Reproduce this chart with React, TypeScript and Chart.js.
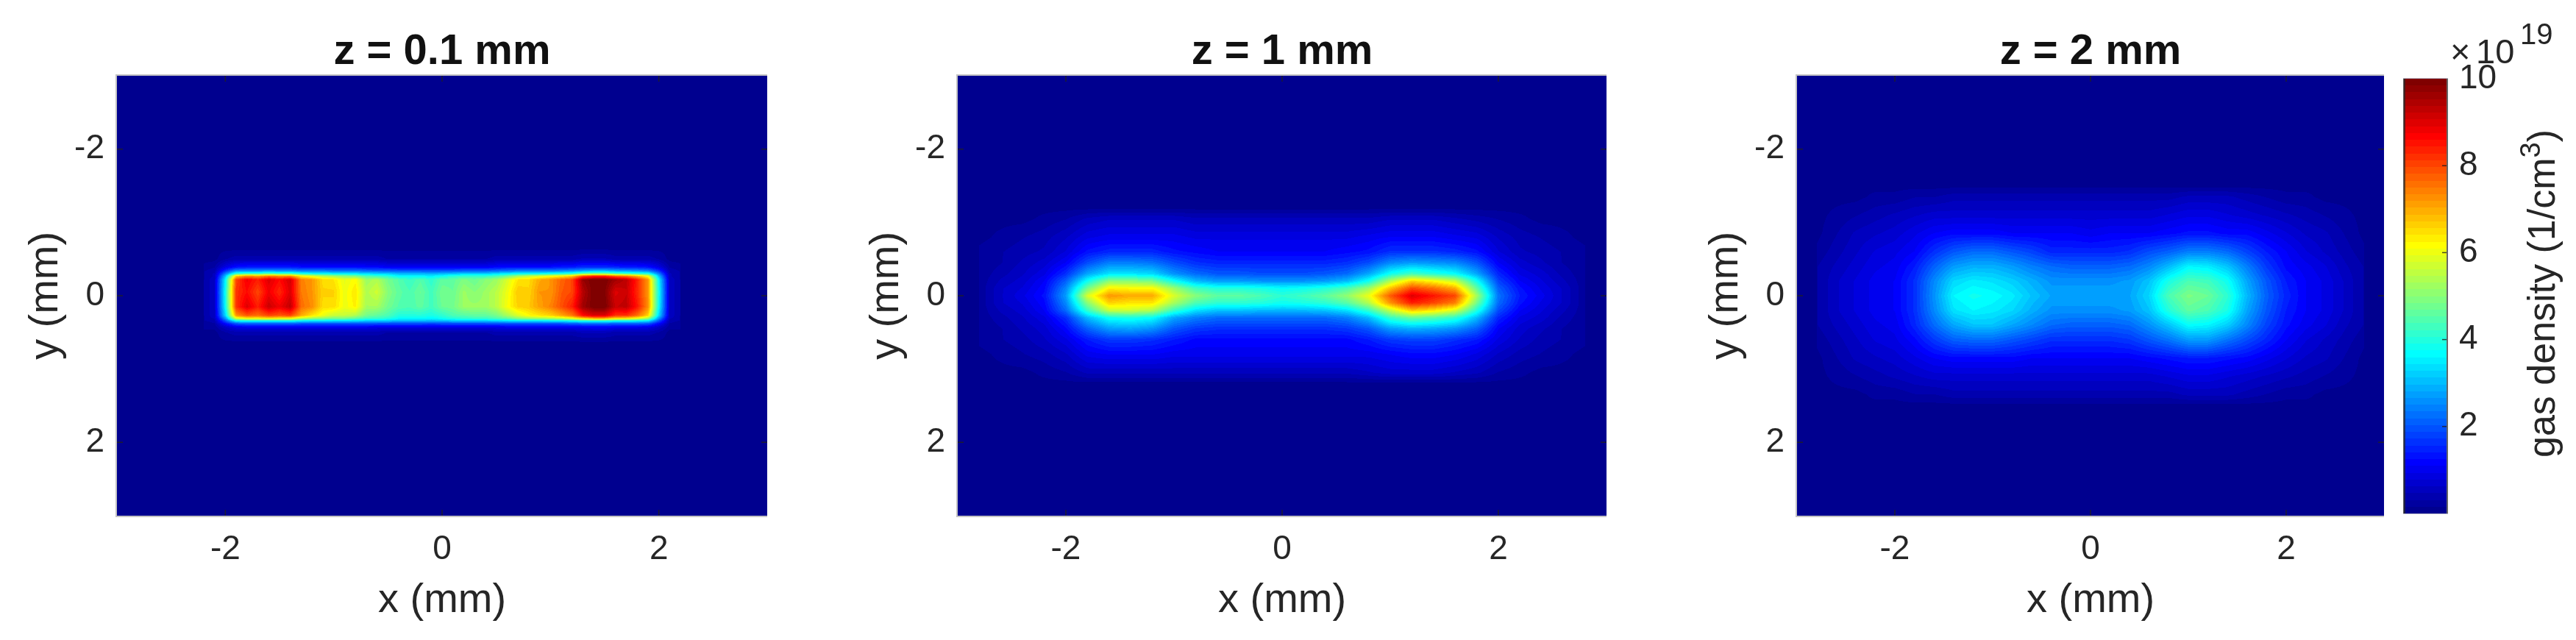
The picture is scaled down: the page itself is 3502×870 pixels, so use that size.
import React, { useEffect, useRef } from "react";
import { Chart, registerables } from "chart.js";

Chart.register(...registerables);

const panelTitles = ["z = 0.1 mm", "z = 1 mm", "z = 2 mm"];
const xTicks = [-2, 0, 2];
const yTicks = [-2, 0, 2];
const colorbarTicks = [2, 4, 6, 8, 10];

// Gas density, in units of 1e18 / cm^3.
const xColsFine = [-2.2, -2.1, -2.0, -1.9, -1.8, -1.7, -1.6, -1.5, -1.4, -1.3, -1.2, -1.1, -1.0, -0.9, -0.8, -0.7, -0.6, -0.5, -0.4, -0.3, -0.2, -0.1, 0, 0.1, 0.2, 0.3, 0.4, 0.5, 0.6, 0.7, 0.8, 0.9, 1.0, 1.1, 1.2, 1.3, 1.4, 1.5, 1.6, 1.7, 1.8, 1.9, 2.0, 2.1, 2.2];
const xColsCoarse = [-2.8, -2.6, -2.4, -2.2, -2.0, -1.8, -1.6, -1.4, -1.2, -1.0, -0.8, -0.6, -0.4, -0.2, 0, 0.2, 0.4, 0.6, 0.8, 1.0, 1.2, 1.4, 1.6, 1.8, 2.0, 2.2, 2.4, 2.6, 2.8];

const yRowsZ01 = [-0.65, -0.5, -0.39, -0.34, -0.3, -0.27, -0.22, -0.05, 0.15, 0.27, 0.31, 0.34, 0.38, 0.43, 0.5, 0.65];
const densityZ01 = [
  [1,1,1,1,1,1,1,1,1,1,1,1,1,1,1,1,1,1,1,1,1,1,1,1,1,1,1,1,1,1,1,1,1,1,1,1,1,1,1,1,1,1,1,1,1],
  [1,1,3,4,4,4,4,4,4,4,4,4,4,4,4,4,4,3,3,3,3,3,3,3,3,3,3,4,4,4,4,4,4,4,4,5,5,5,4,4,4,4,3,1,1],
  [2,3,9,13,14,14,14,14,14,13,13,13,13,13,13,12,12,11,11,11,11,11,11,11,11,11,11,12,13,13,13,13,13,14,14,16,16,16,15,14,14,13,9,3,2],
  [3,4,16,26,26,26,27,26,26,24,24,24,23,23,23,22,21,21,20,20,20,20,20,20,21,21,21,22,23,24,24,24,24,25,26,28,30,30,28,27,26,24,16,4,3],
  [3,5,24,42,44,44,46,44,44,40,38,38,36,36,35,33,33,32,30,30,30,29,30,31,32,32,32,34,36,37,38,38,39,40,42,48,50,50,46,44,42,40,24,5,3],
  [3,5,30,66,72,70,74,72,72,62,58,54,52,50,48,44,42,40,36,36,36,35,37,40,41,41,41,43,47,52,55,57,60,62,66,78,82,82,76,74,68,60,30,5,3],
  [3,6,36,80,88,84,90,86,91,74,72,65,64,59,62,52,54,48,45,42,45,41,46,46,49,47,50,52,58,64,65,70,72,77,80,97,100,100,96,93,84,72,36,6,3],
  [3,6,38,82,86,80,88,83,90,75,72,66,66,60,64,54,57,50,46,44,47,43,48,47,52,50,52,55,60,67,66,72,72,78,80,94,100,99,90,92,83,72,38,6,3],
  [3,6,37,82,90,84,92,88,93,76,73,65,65,60,63,53,53,48,45,44,46,43,47,48,52,52,52,55,61,66,67,71,74,79,84,96,100,100,92,93,85,73,37,6,3],
  [3,6,33,72,78,76,80,78,80,70,64,60,56,56,54,48,46,44,40,40,40,39,41,44,45,46,46,48,53,58,62,64,66,70,75,86,90,90,82,82,76,66,33,6,3],
  [3,5,26,58,62,62,64,62,62,55,52,50,48,48,46,42,42,40,37,37,37,36,38,40,41,42,42,44,46,50,52,53,54,56,60,66,70,70,65,64,60,52,26,5,3],
  [3,4,20,38,40,40,40,40,40,37,36,36,35,35,34,33,33,32,31,31,31,30,31,32,33,33,33,34,35,36,36,36,37,38,39,42,42,42,40,40,38,36,20,4,3],
  [2,3,12,20,21,21,21,21,21,20,20,20,20,20,20,20,19,19,19,19,19,18,19,19,19,19,19,19,20,20,20,20,20,20,21,22,22,22,21,21,21,20,12,3,2],
  [2,2,6,9,10,10,10,10,10,10,10,10,10,10,10,10,9,9,9,9,9,9,9,9,9,9,9,9,10,10,10,10,10,10,10,10,11,11,10,10,10,9,6,2,2],
  [1,1,3,4,4,4,4,4,4,4,4,4,4,4,4,4,4,3,3,3,3,3,3,3,3,3,3,4,4,4,4,4,4,4,4,5,5,5,4,4,4,4,3,1,1],
  [1,1,1,1,1,1,1,1,1,1,1,1,1,1,1,1,1,1,1,1,1,1,1,1,1,1,1,1,1,1,1,1,1,1,1,1,1,1,1,1,1,1,1,1,1],
];

const yRowsZ1 = [-1.2, -1.05, -0.8, -0.6, -0.45, -0.3, -0.2, -0.1, 0, 0.1, 0.2, 0.3, 0.45, 0.6, 0.8, 1.05, 1.2];
const densityZ1 = [
  [1,1,1,1,1,1,1,1,1,1,1,1,1,1,1,1,1,1,1,1,1,1,1,1,1,1,1,1,1],
  [1,1,1,2,3,5,6,6,6,6,5,5,5,5,5,5,5,5,5,6,6,6,5,4,3,2,1,1,1],
  [1,2,3,4,6,9,10,10,10,10,9,9,9,9,9,9,9,9,10,11,11,11,10,9,6,4,3,2,1],
  [2,3,4,5,8,13,15,15,15,13,12,11,11,11,11,11,11,12,13,16,16,16,15,13,8,5,4,3,2],
  [2,3,5,7,11,19,24,24,23,19,16,15,15,15,15,15,15,16,19,25,27,26,25,20,11,7,5,3,2],
  [2,4,6,9,16,28,34,34,33,26,22,20,20,19,19,19,20,22,28,38,43,40,37,28,15,9,7,4,2],
  [2,5,7,11,21,38,50,50,48,38,30,27,27,26,26,26,27,30,38,54,66,62,56,38,18,11,8,5,2],
  [2,6,8,12,25,48,63,62,62,52,43,40,40,39,37,38,40,44,52,68,80,76,70,46,21,13,9,6,2],
  [2,6,9,13,27,58,72,70,70,58,50,46,46,44,41,43,46,51,60,78,90,85,80,53,23,14,10,6,2],
  [2,6,8,12,25,50,66,64,64,53,44,41,41,40,38,39,41,45,54,72,84,80,74,48,22,13,9,6,2],
  [2,5,7,11,22,42,56,57,54,42,34,31,31,30,30,30,31,34,42,56,67,64,58,40,19,11,8,5,2],
  [2,4,6,9,16,30,38,39,37,28,24,22,22,22,22,22,22,24,30,42,47,45,41,30,15,9,7,4,2],
  [2,3,5,7,12,21,27,28,26,20,17,16,16,16,16,16,16,17,20,27,29,28,26,21,11,7,5,3,2],
  [2,3,4,6,9,14,17,17,16,14,12,12,12,12,12,12,12,12,14,17,18,18,16,14,9,6,4,3,2],
  [1,2,3,4,6,10,11,11,11,10,10,10,10,10,10,10,10,10,10,11,12,12,11,9,6,4,3,2,1],
  [1,1,1,2,3,5,5,5,5,5,5,5,5,5,5,5,5,5,6,7,7,7,6,5,3,2,1,1,1],
  [1,1,1,1,1,1,1,1,1,1,1,1,1,1,1,1,1,1,1,1,1,1,1,1,1,1,1,1,1],
];

const yRowsZ2 = [-1.5, -1.35, -1.1, -0.85, -0.6, -0.4, -0.2, 0, 0.2, 0.4, 0.6, 0.85, 1.1, 1.35, 1.5];
const densityZ2 = [
  [1,1,1,1,1,1,1,1,1,1,1,1,1,1,1,1,1,1,1,1,1,1,1,1,1,1,1,1,1],
  [1,1,1,2,2,3,3,4,4,4,4,4,4,4,4,4,4,4,4,5,5,5,4,3,2,2,1,1,1],
  [1,2,3,4,5,6,7,7,7,7,7,7,7,7,7,7,7,7,8,9,9,8,7,6,5,4,3,2,1],
  [1,3,5,6,7,9,11,12,12,12,11,11,11,11,10,11,11,11,12,13,13,12,12,10,8,6,5,3,1],
  [2,4,6,8,9,11,16,20,22,22,20,18,15,15,15,15,16,19,21,24,24,22,18,14,11,8,6,4,2],
  [3,5,7,9,10,14,21,27,29,29,27,24,22,21,21,21,22,25,30,36,35,31,24,17,12,10,8,5,3],
  [3,6,8,10,11,16,25,33,35,34,32,29,26,26,26,26,27,31,39,44,43,38,28,20,14,11,9,6,3],
  [3,6,8,10,11,16,26,36,38,37,35,31,28,28,28,28,28,33,44,49,47,41,30,21,15,11,9,6,3],
  [3,6,8,10,11,16,25,34,36,35,33,29,26,26,26,26,27,31,40,46,44,39,28,20,14,11,9,6,3],
  [3,5,7,9,10,15,22,28,31,31,28,25,22,21,21,21,22,26,31,37,36,32,25,18,13,10,8,5,3],
  [2,4,6,8,9,12,17,21,22,22,20,18,16,16,16,16,17,20,23,27,27,23,19,15,11,8,6,4,2],
  [1,3,5,6,7,9,11,12,12,12,12,11,11,11,11,11,11,12,13,14,14,13,12,10,8,6,5,3,1],
  [1,2,3,4,5,6,7,7,7,7,7,7,7,7,7,7,7,7,8,9,9,8,7,6,5,4,3,2,1],
  [1,1,1,2,2,3,3,4,4,4,4,4,4,4,4,4,4,4,4,5,5,5,4,3,2,2,1,1,1],
  [1,1,1,1,1,1,1,1,1,1,1,1,1,1,1,1,1,1,1,1,1,1,1,1,1,1,1,1,1],
];

const FONT = '"Liberation Sans", Arial, sans-serif';
const INK = "#262626";
const COLOR_MAX = 100; // 1e18 units, top of the colour scale

function clamp01(v: number) {
  return Math.max(0, Math.min(1, v));
}

// MATLAB's 64-level jet
function jet(value: number): [number, number, number] {
  const idx = Math.max(0, Math.min(63, Math.floor((value / COLOR_MAX) * 64)));
  const f = (idx + 1) / 64;
  return [
    Math.round(255 * clamp01(1.5 - Math.abs(4 * f - 3))),
    Math.round(255 * clamp01(1.5 - Math.abs(4 * f - 2))),
    Math.round(255 * clamp01(1.5 - Math.abs(4 * f - 1))),
  ];
}

function locate(axis: number[], v: number) {
  if (v < axis[0] || v > axis[axis.length - 1]) return -1;
  let i = 0;
  while (i < axis.length - 2 && v > axis[i + 1]) i++;
  return i + (v - axis[i]) / (axis[i + 1] - axis[i]);
}

// Interpolated shading of the table, placed by the chart's own scales.
const heatPlugin = {
  id: "heat",
  beforeDraw(chart: any, _args: any, opts: any) {
    const { xs, ys, table } = opts;
    if (!table) return;
    const area = chart.chartArea;
    const sx = chart.scales.x;
    const sy = chart.scales.y;
    const w = Math.round(area.right - area.left);
    const h = Math.round(area.bottom - area.top);
    const off = document.createElement("canvas");
    off.width = w;
    off.height = h;
    const octx = off.getContext("2d")!;
    const img = octx.createImageData(w, h);
    const cols: number[] = [];
    for (let px = 0; px < w; px++) cols.push(locate(xs, sx.getValueForPixel(area.left + px + 0.5)));
    let o = 0;
    for (let py = 0; py < h; py++) {
      const r = locate(ys, sy.getValueForPixel(area.top + py + 0.5));
      for (let px = 0; px < w; px++) {
        const c = cols[px];
        let v = 1;
        if (r >= 0 && c >= 0) {
          const r0 = Math.floor(r);
          const c0 = Math.floor(c);
          const tr = r - r0;
          const tc = c - c0;
          const r1 = Math.min(r0 + 1, ys.length - 1);
          const c1 = Math.min(c0 + 1, xs.length - 1);
          v =
            table[r0][c0] * (1 - tr) * (1 - tc) +
            table[r0][c1] * (1 - tr) * tc +
            table[r1][c0] * tr * (1 - tc) +
            table[r1][c1] * tr * tc;
        }
        const [R, G, B] = jet(v);
        img.data[o++] = R;
        img.data[o++] = G;
        img.data[o++] = B;
        img.data[o++] = 255;
      }
    }
    octx.putImageData(img, 0, 0);
    chart.ctx.drawImage(off, area.left, area.top);
  },
};

// Box and inward tick marks, at the scales' own tick positions.
const framePlugin = {
  id: "frame",
  afterDraw(chart: any) {
    const { ctx, chartArea: a, scales } = chart;
    ctx.save();
    ctx.strokeStyle = "#1c1c30";
    ctx.lineWidth = 1.5;
    const TL = 8;
    for (const t of scales.x.ticks) {
      const p = scales.x.getPixelForValue(t.value);
      ctx.beginPath();
      ctx.moveTo(p, a.bottom);
      ctx.lineTo(p, a.bottom - TL);
      ctx.moveTo(p, a.top);
      ctx.lineTo(p, a.top + TL);
      ctx.stroke();
    }
    for (const t of scales.y.ticks) {
      const p = scales.y.getPixelForValue(t.value);
      ctx.beginPath();
      ctx.moveTo(a.left, p);
      ctx.lineTo(a.left + TL, p);
      ctx.moveTo(a.right, p);
      ctx.lineTo(a.right - TL, p);
      ctx.stroke();
    }
    ctx.strokeStyle = "#c4c4c4";
    ctx.lineWidth = 2;
    ctx.strokeRect(a.left - 1, a.top - 1, a.right - a.left + 2, a.bottom - a.top + 2);
    ctx.restore();
  },
};

function makePanel(canvas: HTMLCanvasElement, title: string, xs: number[], ys: number[], table: number[][]) {
  const cells: { x: number; y: number; v: number }[] = [];
  ys.forEach((y, r) => xs.forEach((x, c) => cells.push({ x, y, v: table[r][c] })));
  return new Chart(canvas, {
    type: "scatter",
    data: { datasets: [{ label: title, data: cells, pointRadius: 0, showLine: false }] },
    plugins: [heatPlugin, framePlugin],
    options: {
      animation: false,
      responsive: false,
      maintainAspectRatio: false,
      events: [],
      layout: { autoPadding: false, padding: 0 },
      plugins: {
        legend: { display: false },
        tooltip: { enabled: false },
        title: {
          display: true,
          fullSize: false,
          text: title,
          color: "#111",
          font: { family: FONT, size: 58, weight: "bold", lineHeight: 1 },
          padding: { top: 42, bottom: 3 },
        },
        heat: { xs, ys, table },
      },
      scales: {
        x: {
          type: "linear",
          min: -3,
          max: 3,
          afterBuildTicks: (s: any) => {
            s.ticks = xTicks.map((value) => ({ value }));
          },
          afterFit: (s: any) => {
            s.height = 169;
          },
          grid: { display: false, drawTicks: false },
          border: { display: false },
          ticks: {
            autoSkip: false,
            maxRotation: 0,
            padding: 19,
            color: INK,
            font: { family: FONT, size: 46 },
            callback: (v: any) => String(v),
          },
          title: {
            display: true,
            text: "x (mm)",
            color: INK,
            font: { family: FONT, size: 56, lineHeight: 1 },
            padding: { top: 0, bottom: 25 },
          },
        },
        y: {
          type: "linear",
          reverse: true,
          min: -3,
          max: 3,
          afterBuildTicks: (s: any) => {
            s.ticks = yTicks.map((value) => ({ value }));
          },
          afterFit: (s: any) => {
            s.width = 159;
          },
          grid: { display: false, drawTicks: false },
          border: { display: false },
          ticks: {
            autoSkip: false,
            maxRotation: 0,
            padding: 17,
            color: INK,
            font: { family: FONT, size: 46 },
            callback: (v: any) => String(v),
          },
          title: {
            display: true,
            text: "y (mm)",
            color: INK,
            font: { family: FONT, size: 56, lineHeight: 1 },
            padding: { top: 35, bottom: 0 },
          },
        },
      },
    } as any,
  });
}

const colorbarPlugin = {
  id: "colorbar",
  beforeDraw(chart: any) {
    const { ctx, chartArea: a, scales } = chart;
    for (let py = Math.floor(a.top); py < a.bottom; py++) {
      const v = scales.y.getValueForPixel(py + 0.5) * 10;
      const [R, G, B] = jet(v);
      ctx.fillStyle = `rgb(${R},${G},${B})`;
      ctx.fillRect(a.left, py, a.right - a.left, 1);
    }
  },
  afterDraw(chart: any) {
    const { ctx, chartArea: a, scales } = chart;
    ctx.save();
    ctx.strokeStyle = "rgba(30,30,30,0.8)";
    ctx.lineWidth = 1.5;
    for (const t of scales.y.ticks) {
      if (t.value >= 10) continue;
      const p = scales.y.getPixelForValue(t.value);
      ctx.beginPath();
      ctx.moveTo(a.right, p);
      ctx.lineTo(a.right - 7, p);
      ctx.stroke();
    }
    ctx.fillStyle = "rgba(40,40,40,0.75)";
    ctx.fillRect(a.left - 1, a.top, 3, a.bottom - a.top);
    ctx.fillStyle = "#666";
    ctx.fillRect(a.right - 1, a.top, 2, a.bottom - a.top);
    ctx.fillStyle = "#b8b8c8";
    ctx.fillRect(a.left - 1, a.top - 1, a.right - a.left + 2, 1);
    ctx.fillRect(a.left - 1, a.bottom, a.right - a.left + 2, 1);

    // exponent over the bar, with chart-canvas origin at x = 3258
    ctx.fillStyle = INK;
    ctx.textBaseline = "alphabetic";
    ctx.textAlign = "left";
    ctx.font = `47px ${FONT}`;
    ctx.fillText("\u00d7", 3331 - 3258, 86);
    ctx.fillText("10", 3366 - 3258, 86);
    ctx.font = `40px ${FONT}`;
    ctx.fillText("19", 3426 - 3258, 60);

    // rotated unit label
    ctx.save();
    ctx.translate(3473 - 3258, 622);
    ctx.rotate(-Math.PI / 2);
    ctx.font = `52px ${FONT}`;
    const main = "gas density (1/cm";
    ctx.fillText(main, 0, 0);
    const mw = ctx.measureText(main).width;
    ctx.font = `38px ${FONT}`;
    ctx.fillText("3", mw, -20);
    const sw = ctx.measureText("3").width;
    ctx.font = `52px ${FONT}`;
    ctx.fillText(")", mw + sw, 0);
    ctx.restore();
    ctx.restore();
  },
};

function makeColorbar(canvas: HTMLCanvasElement) {
  return new Chart(canvas, {
    type: "scatter",
    data: { datasets: [{ label: "gas density", data: [], pointRadius: 0 }] },
    plugins: [colorbarPlugin],
    options: {
      animation: false,
      responsive: false,
      maintainAspectRatio: false,
      events: [],
      layout: { autoPadding: false, padding: { left: 10, right: 0, top: 107, bottom: 172 } },
      plugins: { legend: { display: false }, tooltip: { enabled: false } },
      scales: {
        x: { type: "linear", display: false, min: 0, max: 1 },
        y: {
          type: "linear",
          position: "right",
          min: 0,
          max: 10,
          afterBuildTicks: (s: any) => {
            s.ticks = colorbarTicks.map((value) => ({ value }));
          },
          afterFit: (s: any) => {
            s.width = 175;
          },
          grid: { display: false, drawTicks: false },
          border: { display: false },
          ticks: {
            autoSkip: false,
            maxRotation: 0,
            padding: 16,
            color: INK,
            font: { family: FONT, size: 46 },
            callback: (v: any) => String(v),
          },
        },
      },
    } as any,
  });
}

const PANEL_LEFT = [159, 1302, 2443];
const PANEL_W = [884, 882, 798];
const CB_LEFT = 3258;

export default function App() {
  const refs = [useRef<HTMLCanvasElement>(null), useRef<HTMLCanvasElement>(null), useRef<HTMLCanvasElement>(null)];
  const cbRef = useRef<HTMLCanvasElement>(null);

  useEffect(() => {
    const charts = [
      makePanel(refs[0].current!, panelTitles[0], xColsFine, yRowsZ01, densityZ01),
      makePanel(refs[1].current!, panelTitles[1], xColsCoarse, yRowsZ1, densityZ1),
      makePanel(refs[2].current!, panelTitles[2], xColsCoarse, yRowsZ2, densityZ2),
      makeColorbar(cbRef.current!),
    ];
    return () => charts.forEach((c) => c.destroy());
  }, []);

  return (
    <div style={{ position: "absolute", left: 0, top: 0, width: 3502, height: 870, overflow: "hidden", background: "#fff" }}>
      {PANEL_LEFT.map((left, i) => (
        <canvas
          key={i}
          ref={refs[i]}
          width={PANEL_W[i] + 159}
          height={870}
          style={{ position: "absolute", left: left - 159, top: 0, width: PANEL_W[i] + 159, height: 870 }}
        />
      ))}
      <canvas
        ref={cbRef}
        width={3502 - CB_LEFT}
        height={870}
        style={{ position: "absolute", left: CB_LEFT, top: 0, width: 3502 - CB_LEFT, height: 870 }}
      />
    </div>
  );
}
